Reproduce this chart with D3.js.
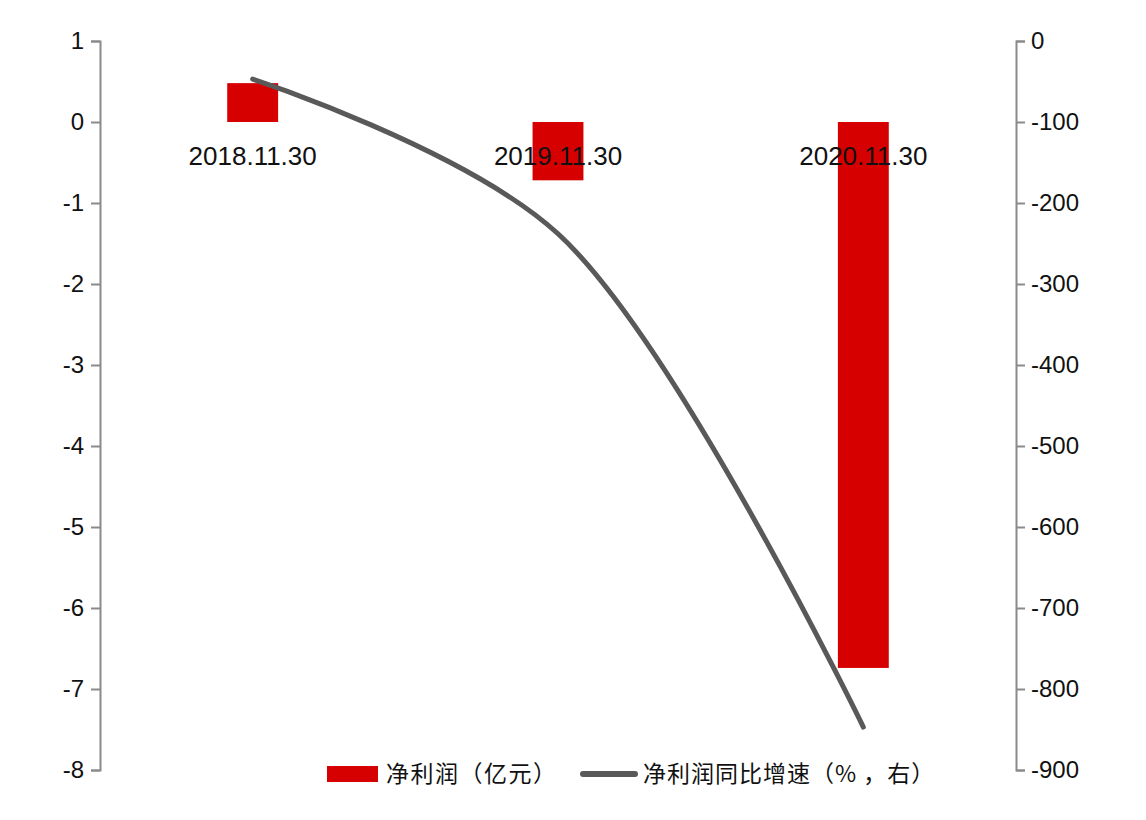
<!DOCTYPE html>
<html>
<head>
<meta charset="utf-8">
<script src="https://cdn.jsdelivr.net/npm/d3@7"></script>
<style>
  body { margin: 0; background: #fff; }
  text { font-family: "Liberation Sans", "Noto Sans CJK SC", sans-serif; fill: #111; }
  .legend text { font-family: "Noto Sans CJK SC", sans-serif; }
</style>
</head>
<body>
<div id="wrapper"></div>
<script>
// data
const categories = ["2018.11.30", "2019.11.30", "2020.11.30"];
const netProfit = [0.48, -0.72, -6.74];        // 亿元, left axis
const profitGrowth = [-47, -238, -847];        // %, right axis
const leftTicks = [1, 0, -1, -2, -3, -4, -5, -6, -7, -8];
const rightTicks = [0, -100, -200, -300, -400, -500, -600, -700, -800, -900];

function drawChart() {
  const dimensions = {
    width: 1146,
    height: 820,
    margin: { top: 41, right: 130, bottom: 50, left: 100 },
  };
  dimensions.boundedWidth = dimensions.width - dimensions.margin.left - dimensions.margin.right;
  dimensions.boundedHeight = dimensions.height - dimensions.margin.top - dimensions.margin.bottom;

  const svg = d3.select("#wrapper")
    .append("svg")
    .attr("width", dimensions.width)
    .attr("height", dimensions.height);

  const bounds = svg.append("g")
    .attr("transform", `translate(${dimensions.margin.left},${dimensions.margin.top})`);

  // scales
  const xScale = d3.scaleBand()
    .domain(categories)
    .range([0, dimensions.boundedWidth])
    .padding(0);
  const barWidth = xScale.bandwidth() / 6;

  const yLeft = d3.scaleLinear()
    .domain([-8, 1])
    .range([dimensions.boundedHeight, 0]);
  const yRight = d3.scaleLinear()
    .domain([-900, 0])
    .range([dimensions.boundedHeight, 0]);

  // bars
  bounds.selectAll(".bar")
    .data(categories)
    .join("rect")
    .attr("class", "bar")
    .attr("x", (d) => xScale(d) + xScale.bandwidth() / 2 - barWidth / 2)
    .attr("width", barWidth)
    .attr("y", (d, i) => yLeft(Math.max(0, netProfit[i])))
    .attr("height", (d, i) => Math.abs(yLeft(netProfit[i]) - yLeft(0)))
    .attr("fill", "#d70000");

  // category labels under the zero line
  bounds.selectAll(".cat")
    .data(categories)
    .join("text")
    .attr("class", "cat")
    .attr("x", (d) => xScale(d) + xScale.bandwidth() / 2)
    .attr("y", yLeft(0) + 43)
    .attr("text-anchor", "middle")
    .style("font-size", "26px")
    .text((d) => d);

  // axes
  const leftAxis = bounds.append("g")
    .call(d3.axisLeft(yLeft).tickValues(leftTicks).tickFormat((d) => String(d)).tickSize(9).tickPadding(7));
  const rightAxis = bounds.append("g")
    .attr("transform", `translate(${dimensions.boundedWidth},0)`)
    .call(d3.axisRight(yRight).tickValues(rightTicks).tickFormat((d) => String(d)).tickSize(9).tickPadding(6));

  [leftAxis, rightAxis].forEach((ax) => {
    ax.select(".domain").attr("stroke", "#8a8a8a").attr("stroke-width", 2);
    ax.selectAll(".tick line").attr("stroke", "#8a8a8a").attr("stroke-width", 2);
    ax.selectAll(".tick text")
      .style("font-size", "24px")
      .style("font-family", "Liberation Sans, sans-serif")
      .attr("fill", "#111");
  });

  // growth line
  const lineGen = d3.line()
    .x((d, i) => xScale(categories[i]) + xScale.bandwidth() / 2)
    .y((d) => yRight(d))
    .curve(d3.curveCatmullRom);

  bounds.append("path")
    .datum(profitGrowth)
    .attr("d", lineGen)
    .attr("fill", "none")
    .attr("stroke", "#595959")
    .attr("stroke-width", 5)
    .attr("stroke-linecap", "round");

  // legend
  const legend = svg.append("g").attr("class", "legend");
  legend.append("rect")
    .attr("x", 327).attr("y", 766)
    .attr("width", 51).attr("height", 16)
    .attr("fill", "#d70000");
  legend.append("text")
    .attr("x", 386).attr("y", 782)
    .style("font-size", "23px")
    .style("letter-spacing", "1.5px")
    .text("净利润（亿元）");
  legend.append("line")
    .attr("x1", 583).attr("x2", 635)
    .attr("y1", 774).attr("y2", 774)
    .attr("stroke", "#595959")
    .attr("stroke-width", 6)
    .attr("stroke-linecap", "round");
  legend.append("text")
    .attr("x", 643).attr("y", 782)
    .style("font-size", "23px")
    .style("letter-spacing", "1px")
    .text("净利润同比增速（% ，右）");
}
drawChart();
</script>
</body>
</html>
